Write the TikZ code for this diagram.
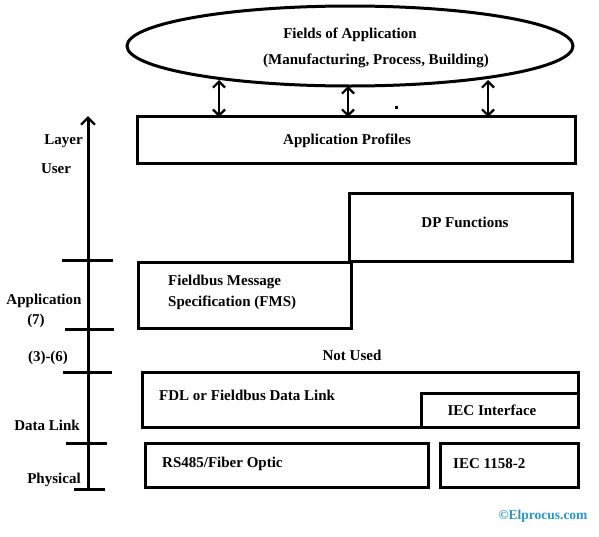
\documentclass[tikz,border=0pt]{standalone}
\usepackage{fontspec}
\setmainfont{Liberation Serif}
\usetikzlibrary{arrows.meta,shapes.geometric}
\definecolor{elblue}{RGB}{40,150,205}
\begin{document}
\begin{tikzpicture}[x=1pt,y=-1pt,
  lw/.style={line width=3pt},
  boxst/.style={draw,line width=3pt},
  lbl/.style={font=\fontsize{15}{17}\selectfont\bfseries,inner sep=0pt},
  dbl/.style={line width=2.8pt,{Straight Barb[length=6pt,width=12pt,line width=2.2pt]}-{Straight Barb[length=6pt,width=12pt,line width=2.2pt]}}]
\useasboundingbox (0,0) rectangle (599,536);
\fill[white] (0,0) rectangle (599,536);
% ellipse
\node[draw,ellipse,line width=3pt,minimum width=446pt,minimum height=80pt,inner sep=0pt] (fld) at (350,46) {};
\node[lbl] (fldt1) at (350,35) {Fields of Application};
\node[lbl] (fldt2) at (376,61) {(Manufacturing, Process, Building)};
% application profiles
\node[boxst,minimum width=438pt,minimum height=47pt,inner sep=0pt] (ap) at (356,139.5) {};
\node[lbl] (apt) at (347,141) {Application Profiles};
\coordinate (a1t) at (219,80); \coordinate (a1b) at (219,117);
\coordinate (a2t) at (348,86); \coordinate (a2b) at (348,117);
\coordinate (a3t) at (488,80); \coordinate (a3b) at (488,117);
\draw[dbl] (a1t) -- (a1b);
\draw[dbl] (a2t) -- (a2b);
\draw[dbl] (a3t) -- (a3b);
\fill (394.5,105.5) rectangle (397.5,108.5);
% DP functions
\node[boxst,minimum width=223pt,minimum height=68pt,inner sep=0pt] (dp) at (460.5,227) {};
\node[lbl] (dpt) at (465,222) {DP Functions};
% FMS
\node[boxst,minimum width=213pt,minimum height=66pt,inner sep=0pt] (fms) at (244.5,295) {};
\node[lbl,anchor=west,align=left] (fmst) at (168,292) {Fieldbus Message\\[4pt]Specification (FMS)};
% Not used
\node[lbl] (nu) at (352,355) {Not Used};
% FDL
\node[boxst,minimum width=436pt,minimum height=55pt,inner sep=0pt] (fdl) at (360,399.5) {};
\node[lbl,anchor=west] (fdlt) at (159,395) {FDL or Fieldbus Data Link};
\node[boxst,minimum width=157pt,minimum height=34pt,inner sep=0pt] (iec) at (499.5,410) {};
\node[lbl] (iect) at (492,410) {IEC Interface};
% physical
\node[boxst,minimum width=283pt,minimum height=44pt,inner sep=0pt] (rs) at (286.5,465) {};
\node[lbl,anchor=west] (rst) at (162,464) {RS485/Fiber Optic};
\node[boxst,minimum width=138pt,minimum height=44pt,inner sep=0pt] (iec2) at (509,465) {};
\node[lbl,anchor=west] (iec2t) at (453,464) {IEC 1158-2};
% copyright
\node[lbl,text=elblue,font=\fontsize{13.5}{15}\selectfont\bfseries] (copy) at (543,516) {\textcopyright Elprocus.com};
% axis
\coordinate (axb) at (88,490); \coordinate (axt) at (88,116);
\draw[lw,-{Straight Barb[length=7pt,width=14pt,line width=2.4pt]}] (axb) -- (axt);
\coordinate (t1l) at (62,260); \coordinate (t1r) at (113,260);
\coordinate (t2l) at (65,329); \coordinate (t2r) at (114,329);
\coordinate (t3l) at (63,372); \coordinate (t3r) at (112,372);
\coordinate (t4l) at (66,443); \coordinate (t4r) at (107,443);
\coordinate (t5l) at (74,489); \coordinate (t5r) at (105,489);
\draw[lw] (t1l) -- (t1r);
\draw[lw] (t2l) -- (t2r);
\draw[lw] (t3l) -- (t3r);
\draw[lw] (t4l) -- (t4r);
\draw[lw] (t5l) -- (t5r);
\node[lbl,anchor=east] (lay) at (83,141) {Layer};
\node[lbl] (usr) at (56,169) {User};
\node[lbl] (appl) at (44,301) {Application};
\node[lbl] (seven) at (36,321) {(7)};
\node[lbl] (three) at (48,358) {(3)-(6)};
\node[lbl] (dl) at (47,425) {Data Link};
\node[lbl] (phy) at (54,480) {Physical};
\end{tikzpicture}
\end{document}
